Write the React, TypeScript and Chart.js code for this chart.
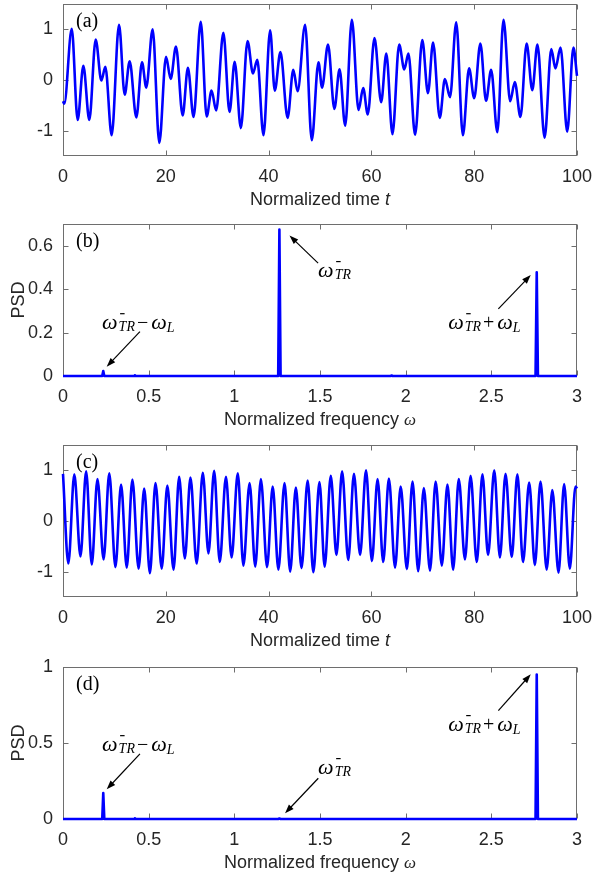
import React, { useEffect, useRef } from "react";
import { Chart, registerables } from "chart.js";

Chart.register(...registerables);

// ---- Panel (a): time trace, local extrema (t, value)
const timeA = [
  0, 0.25, 1.7, 2.85, 3.96, 5.12, 6.36, 7.46, 8.24, 9.47, 10.9, 12.0, 12.97, 14.27, 15.37, 16.2,
  17.44, 18.74, 20.04, 20.95, 21.98, 23.28, 24.3, 25.4, 26.8, 27.95, 28.9, 29.8, 31.2, 32.4, 33.4,
  34.6, 35.9, 36.96, 37.8, 39.0, 40.3, 41.2, 42.3, 43.7, 44.8, 45.65, 47.1, 48.4, 49.7, 50.4, 51.56,
  52.8, 53.8, 54.9, 56.2, 57.5, 58.4, 59.3, 60.6, 61.9, 62.9, 64.1, 65.4, 66.4, 67.2, 68.5, 69.9,
  71.0, 72.0, 73.3, 74.3, 75.3, 76.5, 77.8, 79.0, 80.0, 81.2, 82.3, 83.3, 84.5, 85.7, 87.0, 87.9,
  89.0, 90.2, 91.3, 92.3, 93.7, 95.0, 95.8, 96.8, 98.1, 99.3, 100,
];
const valueA = [
  -0.42, -0.47, 1.01, -0.79, 0.28, -0.79, 0.8, -0.01, 0.26, -1.09, 1.09, -0.29, 0.37, -0.74, 0.35, -0.15,
  1.0, -1.24, 0.46, 0.02, 0.66, -0.7, 0.24, -0.73, 1.15, -0.72, -0.21, -0.6, 0.93, -0.63, 0.36,
  -0.95, 0.77, 0.13, 0.4, -1.09, 0.98, -0.21, 0.55, -0.75, 0.2, -0.22, 1.09, -1.19, 0.35, -0.15, 0.7,
  -0.57, 0.21, -0.9, 1.19, -0.59, -0.16, -0.68, 0.83, -0.44, 0.52, -1.07, 0.7, 0.21, 0.52, -1.08, 0.79,
  -0.26, 0.74, -0.75, 0.02, -0.34, 1.14, -1.09, 0.23, -0.36, 0.72, -0.41, 0.2, -1.03, 1.19, -0.42, -0.04,
  -0.73, 0.72, -0.2, 0.7, -1.14, 0.61, 0.23, 0.64, -1.02, 0.64, 0.08,
];

// ---- Panel (c): time trace, local extrema (t, value)
const timeC = [
  0, 1.04, 2.2, 3.4, 4.5, 5.6, 6.7, 7.9, 9.0, 10.2, 11.3, 12.4, 13.5, 14.7, 15.8, 16.9, 18.0, 19.2,
  20.3, 21.5, 22.6, 23.7, 24.8, 26.0, 27.2, 28.3, 29.4, 30.5, 31.7, 32.8, 34.0, 35.1, 36.3, 37.4,
  38.5, 39.7, 40.8, 41.9, 43.1, 44.2, 45.3, 46.4, 47.6, 48.7, 49.9, 50.9, 52.1, 53.2, 54.3, 55.5,
  56.6, 57.8, 58.95, 60.1, 61.2, 62.3, 63.4, 64.6, 65.7, 66.9, 68.0, 69.1, 70.2, 71.4, 72.5, 73.7,
  74.8, 75.9, 77.0, 78.2, 79.3, 80.5, 81.6, 82.7, 83.9, 85.0, 86.1, 87.3, 88.4, 89.5, 90.7, 91.8,
  92.9, 94.1, 95.2, 96.4, 97.5, 98.6, 99.7, 100,
];
const valueC = [
  0.93, -0.84, 0.92, -0.7, 0.98, -0.86, 0.83, -0.76, 0.94, -0.91, 0.72, -0.92, 0.82, -0.94, 0.64, -1.03, 0.75, -0.94,
  0.7, -0.96, 0.87, -0.74, 0.86, -0.84, 0.95, -0.64, 0.99, -0.81, 0.87, -0.72, 0.94, -0.88, 0.75, -0.9,
  0.83, -0.91, 0.68, -0.96, 0.75, -1.0, 0.66, -0.93, 0.8, -1.01, 0.77, -0.9, 0.89, -0.67, 0.98, -0.77,
  0.93, -0.67, 1.0, -0.79, 0.83, -0.81, 0.84, -0.92, 0.68, -0.95, 0.78, -0.99, 0.65, -0.98, 0.78, -0.88,
  0.72, -0.96, 0.83, -0.76, 0.89, -0.81, 0.92, -0.67, 1.0, -0.72, 0.93, -0.71, 0.92, -0.81, 0.76, -0.87,
  0.78, -0.96, 0.61, -1.02, 0.73, -0.94, 0.68, 0.64,
];

// ---- Panel (b): power spectral density
const freqB = [0, 0.229, 0.235, 0.241, 0.415, 0.42, 0.425, 1.256, 1.263, 1.27, 1.912, 1.918, 1.924, 2.758, 2.765, 2.772, 3];
const psdB = [0, 0, 0.023, 0, 0, 0.003, 0, 0, 0.675, 0, 0, 0.002, 0, 0, 0.478, 0, 0];

// ---- Panel (d): power spectral density
const freqD = [0, 0.229, 0.235, 0.241, 0.415, 0.42, 0.425, 1.256, 1.263, 1.27, 2.758, 2.765, 2.772, 3];
const psdD = [0, 0, 0.17, 0, 0, 0.004, 0, 0, 0.003, 0, 0, 0.95, 0, 0];

// ---- Tick values
const timeTicks = [0, 20, 40, 60, 80, 100];
const freqTicks = [0, 0.5, 1, 1.5, 2, 2.5, 3];
const signalTicks = [-1, 0, 1];
const psdTicksB = [0, 0.2, 0.4, 0.6];
const psdTicksD = [0, 0.5, 1];

type Pt = [number, number];
type Ann = { kind: "tr" | "minus" | "plus"; at: Pt; from: Pt; to: Pt };
type PanelSpec = {
  top: number;
  xs: number[];
  ys: number[];
  xMin: number;
  xMax: number;
  yMin: number;
  yMax: number;
  xTicks: number[];
  yTicks: number[];
  tag: string;
  xTitle: string;
  xVar: string;
  xVarFont: string;
  yTitle?: string;
  smooth: boolean;
  anns: Ann[];
};

const PAD_TOP = 16;
const AXIS_W = 63;
const AXIS_H = 60;
const PLOT_H = 152;
const RIGHT_PAD = 17;
const CANVAS_W = 594;
const CANVAS_H = PAD_TOP + PLOT_H + AXIS_H;

const SANS = '"Liberation Sans", Arial, Helvetica, sans-serif';
const SERIF = '"Liberation Serif", "Times New Roman", serif';
const INK = "#262626";

const panels: PanelSpec[] = [
  {
    top: 4, xs: timeA, ys: valueA, xMin: 0, xMax: 100, yMin: -1.5, yMax: 1.5,
    xTicks: timeTicks, yTicks: signalTicks, tag: "(a)",
    xTitle: "Normalized time ", xVar: "t", xVarFont: `italic 18px ${SANS}`,
    smooth: true, anns: [],
  },
  {
    top: 224, xs: freqB, ys: psdB, xMin: 0, xMax: 3, yMin: 0, yMax: 0.7,
    xTicks: freqTicks, yTicks: psdTicksB, tag: "(b)",
    xTitle: "Normalized frequency ", xVar: "ω", xVarFont: `italic 17px ${SERIF}`,
    yTitle: "PSD", smooth: false,
    anns: [
      { kind: "minus", at: [0.228, 0.216], from: [0.449, 0.204], to: [0.255, 0.043] },
      { kind: "tr", at: [1.489, 0.456], from: [1.489, 0.52], to: [1.322, 0.647] },
      { kind: "plus", at: [2.248, 0.216], from: [2.541, 0.309], to: [2.73, 0.465] },
    ],
  },
  {
    top: 445, xs: timeC, ys: valueC, xMin: 0, xMax: 100, yMin: -1.5, yMax: 1.5,
    xTicks: timeTicks, yTicks: signalTicks, tag: "(c)",
    xTitle: "Normalized time ", xVar: "t", xVarFont: `italic 18px ${SANS}`,
    smooth: true, anns: [],
  },
  {
    top: 667, xs: freqD, ys: psdD, xMin: 0, xMax: 3, yMin: 0, yMax: 1,
    xTicks: freqTicks, yTicks: psdTicksD, tag: "(d)",
    xTitle: "Normalized frequency ", xVar: "ω", xVarFont: `italic 17px ${SERIF}`,
    yTitle: "PSD", smooth: false,
    anns: [
      { kind: "minus", at: [0.228, 0.447], from: [0.449, 0.428], to: [0.255, 0.195] },
      { kind: "tr", at: [1.489, 0.296], from: [1.49, 0.268], to: [1.296, 0.0375] },
      { kind: "plus", at: [2.248, 0.579], from: [2.541, 0.713], to: [2.73, 0.952] },
    ],
  },
];

// ω with a bar superscript and TR subscript; returns the x where it ends
function drawOmegaTR(ctx: CanvasRenderingContext2D, x: number, y: number): number {
  ctx.font = `italic 22px ${SERIF}`;
  ctx.fillText("ω", x, y);
  const w = ctx.measureText("ω").width;
  const sx = x + w + 1;
  ctx.font = `italic 14px ${SERIF}`;
  ctx.fillText("TR", sx, y + 2);
  const tw = ctx.measureText("TR").width;
  ctx.fillRect(sx + 1.5, y - 16, 4.5, 1.2);
  return sx + tw;
}

function drawLabel(ctx: CanvasRenderingContext2D, kind: Ann["kind"], x: number, y: number) {
  ctx.textAlign = "left";
  ctx.textBaseline = "alphabetic";
  let end = drawOmegaTR(ctx, x, y);
  if (kind === "tr") return;
  ctx.font = `20px ${SERIF}`;
  const op = kind === "minus" ? "−" : "+";
  ctx.fillText(op, end + 2, y);
  end = end + 2 + ctx.measureText(op).width + 3;
  ctx.font = `italic 22px ${SERIF}`;
  ctx.fillText("ω", end, y);
  end += ctx.measureText("ω").width;
  ctx.font = `italic 14px ${SERIF}`;
  ctx.fillText("L", end, y + 3);
}

function drawArrow(ctx: CanvasRenderingContext2D, x0: number, y0: number, x1: number, y1: number) {
  const ang = Math.atan2(y1 - y0, x1 - x0);
  const L = 9;
  const W = 3.2;
  const c = Math.cos(ang);
  const s = Math.sin(ang);
  ctx.lineWidth = 1.2;
  ctx.beginPath();
  ctx.moveTo(x0, y0);
  ctx.lineTo(x1 - c * (L - 1), y1 - s * (L - 1));
  ctx.stroke();
  ctx.beginPath();
  ctx.moveTo(x1, y1);
  ctx.lineTo(x1 - L * c + W * s, y1 - L * s - W * c);
  ctx.lineTo(x1 - L * c - W * s, y1 - L * s + W * c);
  ctx.closePath();
  ctx.fill();
}

function makeDecorations(spec: PanelSpec) {
  return {
    id: "panelDecor",
    beforeDatasetsDraw(chart: Chart) {
      const { ctx, chartArea } = chart;
      const xs = chart.scales.x;
      const ys = chart.scales.y;
      const l = Math.round(chartArea.left) + 0.5;
      const r = Math.round(chartArea.right) - 0.5;
      const t = Math.round(chartArea.top) + 0.5;
      const b = Math.round(chartArea.bottom) - 0.5;
      ctx.save();
      ctx.strokeStyle = "#6e6e6e";
      ctx.lineWidth = 1;
      ctx.strokeRect(l, t, r - l, b - t);
      ctx.beginPath();
      const tick = 5;
      for (const v of spec.xTicks) {
        const px = Math.round(xs.getPixelForValue(v)) + 0.5;
        ctx.moveTo(px, b);
        ctx.lineTo(px, b - tick);
        ctx.moveTo(px, t);
        ctx.lineTo(px, t + tick);
      }
      for (const v of spec.yTicks) {
        const py = Math.round(ys.getPixelForValue(v)) + 0.5;
        ctx.moveTo(l, py);
        ctx.lineTo(l + tick, py);
        ctx.moveTo(r, py);
        ctx.lineTo(r - tick, py);
      }
      ctx.stroke();
      ctx.restore();
    },
    afterDatasetsDraw(chart: Chart) {
      const { ctx, chartArea } = chart;
      const xs = chart.scales.x;
      const ys = chart.scales.y;
      ctx.save();
      ctx.fillStyle = "#000";
      ctx.strokeStyle = "#000";
      ctx.font = `20px ${SERIF}`;
      ctx.textAlign = "left";
      ctx.textBaseline = "alphabetic";
      ctx.fillText(spec.tag, chartArea.left + 13, chartArea.top + 23);
      for (const a of spec.anns) {
        drawArrow(
          ctx,
          xs.getPixelForValue(a.from[0]), ys.getPixelForValue(a.from[1]),
          xs.getPixelForValue(a.to[0]), ys.getPixelForValue(a.to[1])
        );
        drawLabel(ctx, a.kind, xs.getPixelForValue(a.at[0]), ys.getPixelForValue(a.at[1]));
      }
      ctx.restore();
    },
    afterDraw(chart: Chart) {
      const { ctx, chartArea } = chart;
      ctx.save();
      ctx.fillStyle = INK;
      ctx.textBaseline = "alphabetic";
      ctx.textAlign = "left";
      ctx.font = `18px ${SANS}`;
      const w1 = ctx.measureText(spec.xTitle).width;
      ctx.font = spec.xVarFont;
      const w2 = ctx.measureText(spec.xVar).width;
      const cx = (chartArea.left + chartArea.right) / 2;
      const x0 = cx - (w1 + w2) / 2;
      const by = chartArea.bottom + 49;
      ctx.font = `18px ${SANS}`;
      ctx.fillText(spec.xTitle, x0, by);
      ctx.font = spec.xVarFont;
      ctx.fillText(spec.xVar, x0 + w1, by);
      if (spec.yTitle) {
        ctx.translate(24, (chartArea.top + chartArea.bottom) / 2);
        ctx.rotate(-Math.PI / 2);
        ctx.font = `18px ${SANS}`;
        ctx.textAlign = "center";
        ctx.fillText(spec.yTitle, 0, 0);
      }
      ctx.restore();
    },
  };
}

function Panel({ spec }: { spec: PanelSpec }) {
  const ref = useRef<HTMLCanvasElement>(null);
  useEffect(() => {
    const canvas = ref.current;
    if (!canvas) return;
    const tickFont = { family: SANS, size: 18 };
    const chart = new Chart(canvas, {
      type: "line",
      data: {
        datasets: [
          {
            data: spec.xs.map((x, i) => ({ x, y: spec.ys[i] })),
            borderColor: "#0000ff",
            borderWidth: 2.6,
            pointRadius: 0,
            fill: false,
            tension: 0,
            cubicInterpolationMode: spec.smooth ? "monotone" : "default",
            borderJoinStyle: "round",
            clip: false,
          } as any,
        ],
      },
      options: {
        animation: false,
        responsive: false,
        maintainAspectRatio: false,
        events: [],
        layout: { padding: { top: PAD_TOP, right: RIGHT_PAD, left: 0, bottom: 0 } },
        plugins: { legend: { display: false }, tooltip: { enabled: false } },
        scales: {
          x: {
            type: "linear",
            min: spec.xMin,
            max: spec.xMax,
            grid: { display: false, drawTicks: false },
            border: { display: false },
            afterBuildTicks: (s: any) => {
              s.ticks = spec.xTicks.map((v) => ({ value: v }));
            },
            afterFit: (s: any) => {
              s.height = AXIS_H;
              s.paddingLeft = 0;
              s.paddingRight = 0;
              s.paddingTop = 0;
              s.paddingBottom = 0;
            },
            ticks: {
              font: tickFont,
              color: INK,
              padding: 10,
              maxRotation: 0,
              autoSkip: false,
              callback: (v: any) => String(v),
            },
          },
          y: {
            type: "linear",
            min: spec.yMin,
            max: spec.yMax,
            grid: { display: false, drawTicks: false },
            border: { display: false },
            afterBuildTicks: (s: any) => {
              s.ticks = spec.yTicks.map((v) => ({ value: v }));
            },
            afterFit: (s: any) => {
              s.width = AXIS_W;
              s.paddingLeft = 0;
              s.paddingRight = 0;
              s.paddingTop = 0;
              s.paddingBottom = 0;
            },
            ticks: {
              font: tickFont,
              color: INK,
              padding: 10,
              autoSkip: false,
              callback: (v: any) => String(v),
            },
          },
        },
      },
      plugins: [makeDecorations(spec)],
    });
    return () => chart.destroy();
  }, [spec]);
  return (
    <canvas
      ref={ref}
      width={CANVAS_W}
      height={CANVAS_H}
      style={{ position: "absolute", left: 0, top: spec.top - PAD_TOP, width: CANVAS_W, height: CANVAS_H }}
    />
  );
}

export default function App() {
  return (
    <div
      style={{
        position: "fixed",
        left: 0,
        top: 0,
        width: 594,
        height: 873,
        overflow: "hidden",
        background: "#fff",
      }}
    >
      {panels.map((p) => (
        <Panel key={p.tag} spec={p} />
      ))}
    </div>
  );
}
